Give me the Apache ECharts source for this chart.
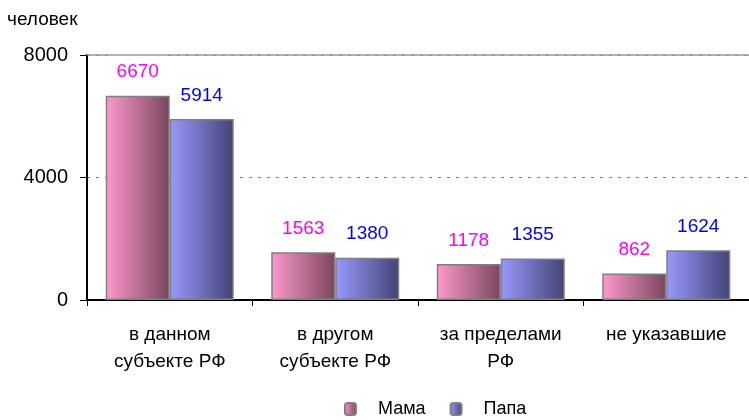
<!DOCTYPE html>
<html><head><meta charset="utf-8">
<script src="https://cdn.jsdelivr.net/npm/echarts@6/dist/echarts.min.js"></script>
<style>html,body{margin:0;padding:0;background:#fff}#c{width:749px;height:420px}</style>
</head><body><div id="c"></div>
<script>
const categories = ['в данном\nсубъекте РФ', 'в другом\nсубъекте РФ', 'за пределами\nРФ', 'не указавшие'];
const mama = [6670, 1563, 1178, 862];
const papa = [5914, 1380, 1355, 1624];
const yTicks = [0, 4000, 8000];
const seriesNames = ['Мама', 'Папа'];

const font = 'Liberation Sans, Arial, sans-serif';
const chart = echarts.init(document.getElementById('c'), null, {renderer: 'canvas'});
const grad = (a, b) => new echarts.graphic.LinearGradient(0, 0, 1, 0, [{offset: 0, color: a}, {offset: 1, color: b}]);

chart.setOption({
  animation: false,
  backgroundColor: '#fff',
  textStyle: {fontFamily: font},
  title: {text: 'человек', left: 7, top: 10, padding: 0, textStyle: {fontFamily: font, fontSize: 19, fontWeight: 'normal', color: '#000'}},
  grid: {left: 87, right: -6, top: 55, bottom: 120, containLabel: false},
  legend: {
    top: 400, left: 344, padding: 0, itemWidth: 11, itemHeight: 12, itemGap: 24,
    textStyle: {fontFamily: font, fontSize: 18, color: '#000', padding: [0, 0, 0, 17]},
    data: seriesNames
  },
  xAxis: {
    type: 'category', data: categories,
    axisLine: {lineStyle: {color: '#000', width: 2}},
    axisTick: {show: true, length: 6, lineStyle: {color: '#000'}},
    axisLabel: {color: '#000', fontFamily: font, fontSize: 19, lineHeight: 27, margin: 21, interval: 0}
  },
  yAxis: {
    type: 'value', min: yTicks[0], max: yTicks[yTicks.length - 1], interval: 4000,
    axisLine: {show: true, lineStyle: {color: '#000', width: 2}},
    axisTick: {show: true, length: 7, lineStyle: {color: '#000'}},
    axisLabel: {color: '#000', fontFamily: font, fontSize: 20, margin: 19, formatter: v => String(v)},
    splitLine: {show: true, lineStyle: {color: '#808080', type: [3, 6], width: 1}}
  },
  series: [
    {
      name: seriesNames[0], type: 'bar', data: mama, barWidth: 64, barGap: '0%',
      itemStyle: {color: grad('#ff99cc', '#78465e'), borderColor: '#7f7f7f', borderWidth: 1.5},
      label: {show: true, position: 'top', distance: 14, color: '#ff00ff', fontSize: 19, fontFamily: font,
        backgroundColor: '#fff', padding: [8, 6, 0, 6]}
    },
    {
      name: seriesNames[1], type: 'bar', data: papa, barWidth: 64, barGap: '0%',
      itemStyle: {color: grad('#9999ff', '#434374'), borderColor: '#7f7f7f', borderWidth: 1.5},
      label: {show: true, position: 'top', distance: 14, color: '#0000ff', fontSize: 19, fontFamily: font},
      markLine: {
        silent: true, symbol: 'none', label: {show: false},
        lineStyle: {color: '#999', type: 'solid', width: 1.5},
        data: [{yAxis: yTicks[yTicks.length - 1]}]
      }
    }
  ]
});
</script></body></html>
